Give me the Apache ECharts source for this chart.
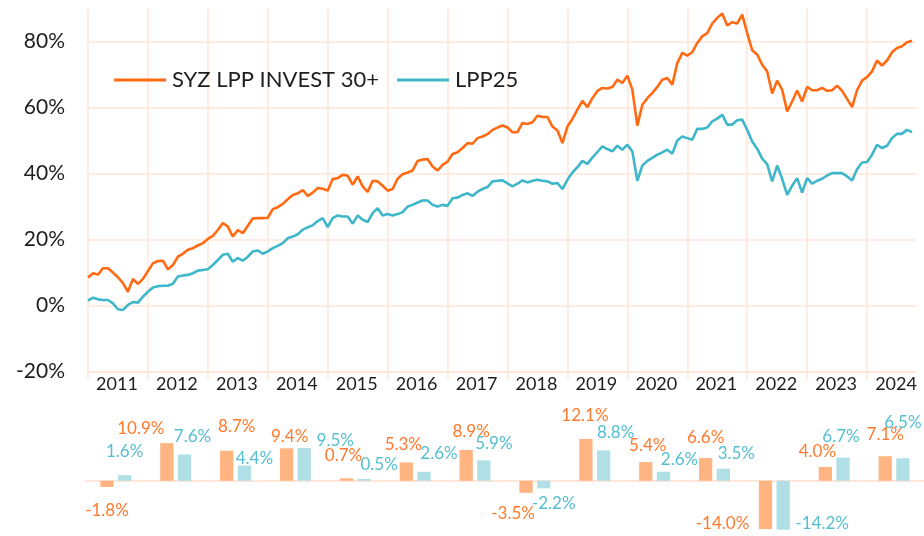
<!DOCTYPE html>
<html><head><meta charset="utf-8">
<script src="https://cdn.jsdelivr.net/npm/echarts@6/dist/echarts.min.js"></script>
<style>html,body{margin:0;padding:0;background:#fff}#c{width:924px;height:536px}</style>
</head><body><div id="c"></div>
<script>
// ---- data ----
const seriesNames = ['SYZ LPP INVEST 30+', 'LPP25'];
const yearLabels = ['2011','2012','2013','2014','2015','2016','2017','2018','2019','2020','2021','2022','2023','2024'];
// cumulative performance (%), month-end, starting Dec 2010
const syzMonthly = [
  8.5, 9.8, 9.4, 11.3, 11.3, 10.0, 8.6, 6.8, 4.2, 8.1,
  6.6, 8.1, 10.5, 12.8, 13.5, 13.6, 11.0, 12.3, 14.8, 15.7,
  16.9, 17.4, 18.2, 18.9, 20.2, 21.1, 22.9, 25.0, 23.9, 20.9,
  22.9, 21.9, 24.2, 26.4, 26.5, 26.5, 26.6, 29.2, 29.8, 30.8,
  32.2, 33.5, 34.0, 35.0, 33.2, 34.2, 35.6, 35.4, 34.8, 38.3,
  38.6, 39.6, 39.3, 36.6, 39.1, 36.1, 34.4, 37.8, 37.6, 36.3,
  34.8, 35.3, 38.4, 39.8, 40.3, 40.9, 43.8, 44.2, 44.4, 42.1,
  40.9, 42.6, 43.6, 45.9, 46.4, 47.7, 49.2, 49.0, 50.7, 51.2,
  51.9, 53.2, 53.9, 54.5, 53.9, 52.5, 52.5, 55.3, 55.0, 55.5,
  57.5, 57.1, 57.1, 54.2, 53.0, 49.2, 54.2, 56.5, 59.3, 62.0,
  60.1, 62.8, 65.0, 65.9, 65.7, 66.2, 68.4, 67.4, 69.6, 65.4,
  54.5, 60.8, 62.8, 64.4, 66.2, 68.4, 68.9, 66.9, 73.4, 76.5,
  75.7, 76.7, 79.5, 81.5, 82.5, 85.4, 87.1, 88.4, 84.8, 85.8,
  85.4, 88.1, 82.5, 77.3, 76.0, 72.9, 70.9, 64.2, 68.1, 65.4,
  58.8, 61.8, 65.1, 61.8, 66.2, 65.2, 65.2, 65.9, 65.0, 65.2,
  66.6, 65.0, 62.6, 60.1, 65.2, 68.1, 69.2, 70.9, 74.2, 72.7,
  74.2, 76.7, 78.0, 78.5, 79.7, 80.2
];
const lppMonthly = [
  1.5, 2.4, 1.9, 1.7, 1.7, 0.7, -1.1, -1.3, 0.2, 1.1,
  0.9, 2.7, 4.2, 5.5, 5.9, 6.0, 6.0, 6.6, 8.8, 9.1,
  9.3, 9.8, 10.6, 10.8, 11.0, 12.3, 13.8, 15.4, 15.7, 13.3,
  14.4, 13.6, 14.8, 16.4, 16.7, 15.7, 16.4, 17.4, 18.1, 18.9,
  20.4, 20.9, 21.6, 23.0, 23.7, 24.3, 25.6, 26.5, 23.8, 26.5,
  27.3, 27.0, 27.0, 24.8, 27.3, 26.0, 25.3, 28.0, 29.5, 27.3,
  27.7, 27.3, 27.7, 28.3, 30.0, 30.5, 31.2, 31.8, 31.8, 30.5,
  30.0, 30.5, 30.2, 32.5, 32.7, 33.5, 34.0, 33.2, 34.5, 35.3,
  35.9, 37.6, 37.8, 37.9, 37.0, 36.1, 36.9, 37.9, 37.3, 37.8,
  38.1, 37.8, 37.6, 36.9, 37.1, 35.3, 38.1, 40.3, 41.9, 43.8,
  42.9, 44.8, 46.5, 48.2, 47.4, 46.7, 48.4, 47.2, 48.7, 46.7,
  37.8, 42.4, 43.8, 44.7, 45.7, 46.4, 47.2, 46.0, 50.0, 51.2,
  50.7, 50.2, 53.5, 53.5, 53.9, 55.8, 56.6, 57.8, 54.8, 54.8,
  56.1, 56.3, 53.2, 49.7, 47.5, 44.5, 42.8, 37.6, 42.4, 38.4,
  33.5, 36.3, 38.6, 34.2, 38.6, 36.9, 37.8, 38.4, 39.4, 40.1,
  40.1, 40.1, 39.1, 37.9, 41.3, 43.3, 43.5, 45.7, 48.7, 47.7,
  48.4, 50.7, 52.0, 52.0, 53.2, 52.5
];
// calendar-year returns (%)
const syzAnnual = [-1.8, 10.9, 8.7, 9.4, 0.7, 5.3, 8.9, -3.5, 12.1, 5.4, 6.6, -14.0, 4.0, 7.1];
const lppAnnual = [1.6, 7.6, 4.4, 9.5, 0.5, 2.6, 5.9, -2.2, 8.8, 2.6, 3.5, -14.2, 6.7, 6.5];
const yTickValues = [-20, 0, 20, 40, 60, 80];

// ---- label nudges (style only) ----
const syzLabelNudge = [[0,10],[-26,-1],[10,-11],[3,2],[-3,-9],[-3,-4],[5,-5],[-13,7],[-1,-10],[2,-3],[0,-7],[-43,-19],[-8,-2],[0,-8]];
const lppLabelNudge = [[0,-10],[8,-4],[10,6],[31,6],[15,-1],[15,-5],[10,-3],[10,2],[12,-4],[16,1],[13,-2],[39,-20],[-2,-8],[0,-22]];

// ---- styles ----
const FONT = 'Lato';
const GRID_C = '#FFE6D8';
const ORANGE = '#FF6A13';
const TEAL = '#3DB7C9';
const ORANGE_BAR = '#FFB482';
const TEAL_BAR = '#B0E0E6';
const ORANGE_TXT = '#FF7A2E';
const TEAL_TXT = '#55BFD0';
const TXT = '#1E1E1E';

const chart = echarts.init(document.getElementById('c'), null, {renderer: 'canvas'});

const xMax = 165.8;
const xSplitColors = yearLabels.map(() => GRID_C).concat(['rgba(0,0,0,0)']);
const ySplitColors = yTickValues.map(() => GRID_C).concat(['rgba(0,0,0,0)']);

function barData(vals, nudges, txtColor) {
  return vals.map((v, i) => ({
    value: v,
    label: {
      position: v < 0 ? 'bottom' : 'top',
      offset: nudges[i],
      color: txtColor
    }
  }));
}

const option = {
  animation: false,
  backgroundColor: '#ffffff',
  textStyle: {fontFamily: FONT},
  grid: [
    {left: 88, top: 8.3, right: 8, bottom: 164.3, containLabel: false},
    {left: 85.9, top: 432.4, width: 847, height: 107.4, containLabel: false}
  ],
  legend: {
    show: true,
    left: 114, top: 69, padding: 0,
    itemWidth: 52, itemHeight: 3, itemGap: 18,
    icon: 'rect',
    data: [
      {name: seriesNames[0], itemStyle: {color: ORANGE}},
      {name: seriesNames[1], itemStyle: {color: TEAL}}
    ],
    textStyle: {fontFamily: FONT, fontSize: 22, color: TXT, padding: [0,0,0,1]}
  },
  xAxis: [
    {
      type: 'value', gridIndex: 0, min: 0, max: xMax, interval: 12,
      axisLine: {show: true, onZero: false, lineStyle: {color: GRID_C, width: 1.5}},
      axisTick: {show: true, length: 8, lineStyle: {color: GRID_C, width: 1.5}},
      splitLine: {show: true, lineStyle: {color: xSplitColors, width: 1.5}},
      axisLabel: {
        show: true, margin: 3, fontFamily: FONT, fontSize: 18, color: TXT,
        padding: [0, 0, 0, 58], showMaxLabel: false,
        formatter: v => (v % 12 === 0 && v / 12 < yearLabels.length) ? yearLabels[v / 12] : ''
      }
    },
    {
      type: 'category', gridIndex: 1, data: yearLabels,
      axisLine: {show: true, onZero: true, lineStyle: {color: GRID_C, width: 2}},
      axisTick: {show: false}, axisLabel: {show: false}, splitLine: {show: false}
    }
  ],
  yAxis: [
    {
      type: 'value', gridIndex: 0, min: -20, max: 90, interval: 20,
      axisLine: {show: false}, axisTick: {show: false},
      splitLine: {show: true, lineStyle: {color: ySplitColors, width: 1.5}},
      axisLabel: {
        show: true, margin: 23, fontFamily: FONT, fontSize: 21, color: TXT,
        showMaxLabel: false,
        formatter: v => (yTickValues.indexOf(v) >= 0 ? v + '%' : '')
      }
    },
    {
      type: 'value', gridIndex: 1, min: -16, max: 14,
      show: false, splitLine: {show: false}
    }
  ],
  series: [
    {
      name: seriesNames[0], type: 'line', xAxisIndex: 0, yAxisIndex: 0,
      data: syzMonthly.map((v, i) => [i, v]),
      showSymbol: false, symbol: 'none',
      lineStyle: {color: ORANGE, width: 2.6}, itemStyle: {color: ORANGE}, z: 3
    },
    {
      name: seriesNames[1], type: 'line', xAxisIndex: 0, yAxisIndex: 0,
      data: lppMonthly.map((v, i) => [i, v]),
      showSymbol: false, symbol: 'none',
      lineStyle: {color: TEAL, width: 2.6}, itemStyle: {color: TEAL}, z: 3
    },
    {
      name: 'SYZ annual', type: 'bar', xAxisIndex: 1, yAxisIndex: 1,
      barWidth: 13.3, barGap: '33%',
      itemStyle: {color: ORANGE_BAR},
      label: {show: true, distance: 5, fontFamily: FONT, fontSize: 17,
        formatter: p => p.value.toFixed(1) + '%'},
      data: barData(syzAnnual, syzLabelNudge, ORANGE_TXT)
    },
    {
      name: 'LPP25 annual', type: 'bar', xAxisIndex: 1, yAxisIndex: 1,
      barWidth: 13.3, barGap: '33%',
      itemStyle: {color: TEAL_BAR},
      label: {show: true, distance: 5, fontFamily: FONT, fontSize: 17,
        formatter: p => p.value.toFixed(1) + '%'},
      data: barData(lppAnnual, lppLabelNudge, TEAL_TXT)
    }
  ]
};
chart.setOption(option);
</script>
</body></html>
